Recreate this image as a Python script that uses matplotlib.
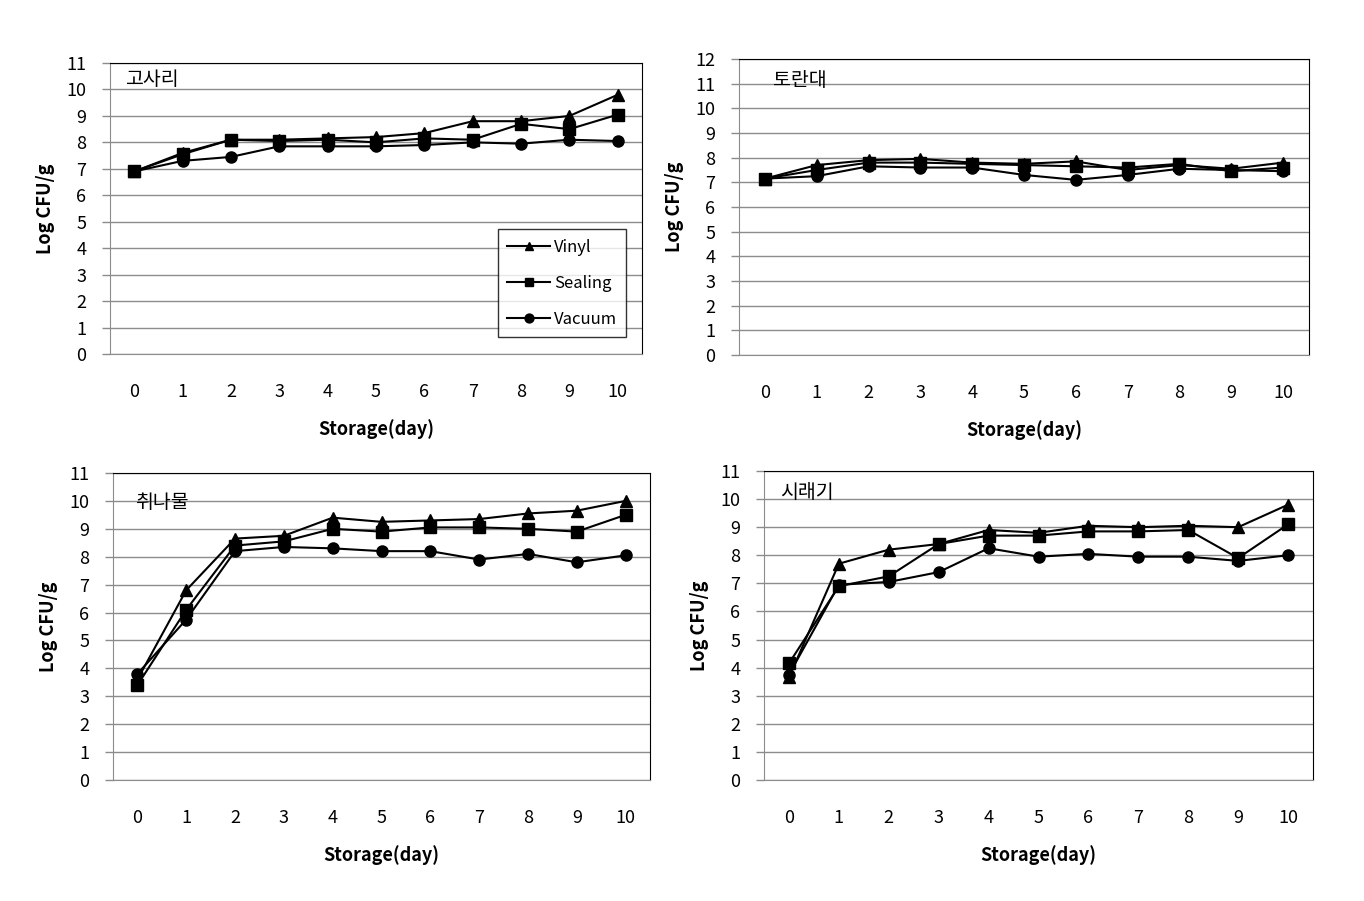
import matplotlib.pyplot as plt

plt.rcParams['font.family'] = ['Noto Sans CJK KR', 'DejaVu Sans']

days = list(range(11))
series_names = ['Vinyl', 'Sealing', 'Vacuum']

gosari_vinyl = [6.9, 7.6, 8.1, 8.1, 8.15, 8.2, 8.35, 8.8, 8.8, 9.0, 9.8]
gosari_sealing = [6.9, 7.55, 8.1, 8.05, 8.1, 8.0, 8.15, 8.1, 8.7, 8.5, 9.05]
gosari_vacuum = [6.9, 7.3, 7.45, 7.85, 7.85, 7.85, 7.9, 8.0, 7.95, 8.1, 8.05]

toran_vinyl = [7.15, 7.7, 7.9, 7.95, 7.8, 7.75, 7.85, 7.5, 7.7, 7.55, 7.8]
toran_sealing = [7.15, 7.5, 7.8, 7.8, 7.75, 7.7, 7.65, 7.6, 7.75, 7.45, 7.6]
toran_vacuum = [7.15, 7.25, 7.65, 7.6, 7.6, 7.3, 7.1, 7.3, 7.55, 7.5, 7.45]

chwi_vinyl = [3.6, 6.8, 8.65, 8.75, 9.4, 9.25, 9.3, 9.35, 9.55, 9.65, 10.0]
chwi_sealing = [3.4, 6.1, 8.4, 8.55, 9.0, 8.9, 9.05, 9.05, 9.0, 8.9, 9.5]
chwi_vacuum = [3.8, 5.75, 8.2, 8.35, 8.3, 8.2, 8.2, 7.9, 8.1, 7.8, 8.05]

sirae_vinyl = [3.65, 7.7, 8.2, 8.4, 8.9, 8.8, 9.05, 9.0, 9.05, 9.0, 9.8]
sirae_sealing = [4.15, 6.9, 7.25, 8.4, 8.7, 8.7, 8.85, 8.85, 8.9, 7.9, 9.1]
sirae_vacuum = [3.75, 6.95, 7.05, 7.4, 8.25, 7.95, 8.05, 7.95, 7.95, 7.8, 8.0]

panels = [
    ('고사리', 11, [gosari_vinyl, gosari_sealing, gosari_vacuum]),
    ('토란대', 12, [toran_vinyl, toran_sealing, toran_vacuum]),
    ('취나물', 11, [chwi_vinyl, chwi_sealing, chwi_vacuum]),
    ('시래기', 11, [sirae_vinyl, sirae_sealing, sirae_vacuum]),
]

W, H = 1364, 901
# axes boxes in pixels: left, top, right, bottom
boxes = [(110, 63, 642, 354), (739, 59, 1309, 355),
         (113, 473, 650, 780), (764, 471, 1313, 780)]
# panel name offset from the box's top-left corner, pixels
name_offsets = [(15, 17), (34, 21), (22, 30), (16, 21)]
markers = ['^', 's', 'o']

fig = plt.figure(figsize=(W / 100, H / 100), dpi=100)

for (name, ymax, data), (l, t, r, b), (dx, dy) in zip(panels, boxes, name_offsets):
    w, h = r - l, b - t
    ax = fig.add_axes([l / W, 1 - b / H, w / W, h / H])
    for vals, m, lab in zip(data, markers, series_names):
        ax.plot(days, vals, color='black', marker=m, markersize=8,
                linewidth=1.5, label=lab)
    ax.set_xlim(-0.5, 10.5)
    ax.set_ylim(0, ymax)
    ax.set_yticks(range(ymax + 1))
    ax.set_xticks(days)
    ax.grid(axis='y', color='#8c8c8c', linewidth=1)
    ax.set_axisbelow(True)
    for s in ['top', 'right']:
        ax.spines[s].set_color('black')
    for s in ['left', 'bottom']:
        ax.spines[s].set_color('#8c8c8c')
    ax.tick_params(axis='y', length=6, width=1, color='#8c8c8c',
                   labelsize=13, pad=11)
    ax.tick_params(axis='x', length=0, labelsize=13, pad=21)
    ax.set_xlabel('Storage(day)', fontsize=13, fontweight='bold', labelpad=13)
    ax.set_ylabel('Log CFU/g', fontsize=13, fontweight='bold', labelpad=8)
    ax.text(dx / w, 1 - dy / h, name, transform=ax.transAxes, fontsize=14,
            va='center', ha='left')

    if name == '고사리':
        leg = ax.legend(loc='lower right',
                        bbox_to_anchor=(1 - 16 / w, 17 / h),
                        borderaxespad=0, fontsize=12, frameon=True,
                        fancybox=False, edgecolor='black', labelspacing=1.15,
                        handlelength=2.6, handletextpad=0.2,
                        borderpad=0.55, markerscale=0.8)
        leg.get_frame().set_linewidth(1)

fig.savefig('out.png', dpi=100)
